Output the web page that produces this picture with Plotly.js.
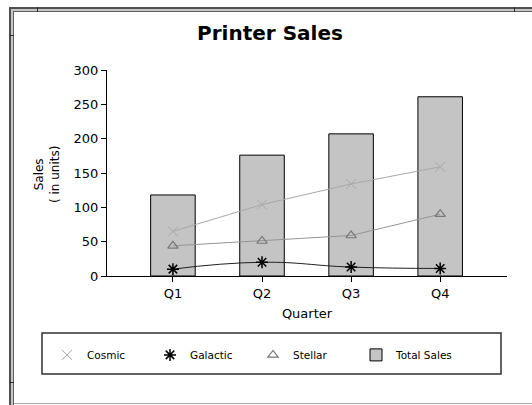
<!DOCTYPE html>
<html>
<head>
<meta charset="utf-8">
<script src="https://cdn.plot.ly/plotly-3.0.1.min.js"></script>
<style>
  html, body { margin:0; padding:0; background:#fff; overflow:hidden; }
  #wrap { position:relative; width:532px; height:405px; overflow:hidden; }
  .f { position:absolute; }
  #chart { position:absolute; left:0; top:0; width:532px; height:405px; z-index:2; }
</style>
</head>
<body>
<div id="wrap">
  <div class="f" style="left:9px;top:7px;width:600px;height:500px;background:#c4c4c4;border-left:2px solid #505050;border-top:2px solid #505050;box-sizing:border-box;"></div>
  <div class="f" style="left:13px;top:11px;width:600px;height:500px;background:#ffffff;border-left:1px solid #606060;border-top:1px solid #606060;box-sizing:border-box;"></div>
  <div class="f" style="left:14px;top:403px;width:520px;height:1px;background:#a8a8a8;"></div>
  <div class="f" style="left:37px;top:7px;width:1px;height:5px;background:#303030;"></div>
  <div class="f" style="left:514px;top:7px;width:1px;height:5px;background:#303030;"></div>
  <div class="f" style="left:9px;top:35px;width:5px;height:1px;background:#303030;"></div>
  <div class="f" style="left:9px;top:382px;width:5px;height:1px;background:#303030;"></div>
  <div id="chart"></div>
</div>
<script>
const quarters = ['Q1', 'Q2', 'Q3', 'Q4'];
const cosmic = [65, 104, 134, 159];
const galactic = [10, 20, 13, 11];
const stellar = [44, 51, 59, 90];
const totalSales = [118, 176, 207, 261];

const FONT = 'DejaVu Sans, Arial, sans-serif';

const cosmicMarker = {symbol:'x-thin-open', size:10, color:'#a8a8a8', line:{color:'#a8a8a8', width:1}};
const galacticMarker = {symbol:'asterisk-open', size:10, color:'#000', line:{color:'#000', width:1.5}};
const stellarMarker = {symbol:'triangle-up-open', size:9, color:'#777', line:{color:'#777', width:1.2}};

const data = [
  // connecting lines (not in legend)
  { type:'scatter', mode:'lines', x:quarters, y:cosmic, showlegend:false, hoverinfo:'skip',
    line:{color:'#a8a8a8', width:1} },
  { type:'scatter', mode:'lines', x:quarters, y:galactic, showlegend:false, hoverinfo:'skip',
    line:{color:'#202020', width:1, shape:'spline', smoothing:1.3} },
  { type:'scatter', mode:'lines', x:quarters, y:stellar, showlegend:false, hoverinfo:'skip',
    line:{color:'#959595', width:1} },
  // markers (legend entries)
  { type:'scatter', mode:'markers', name:'Cosmic', x:quarters, y:cosmic, marker:cosmicMarker },
  { type:'scatter', mode:'markers', name:'Galactic', x:quarters, y:galactic, marker:galacticMarker },
  { type:'scatter', mode:'markers', name:'Stellar', x:quarters, y:stellar, marker:stellarMarker },
  { type:'bar', name:'Total Sales', x:quarters, y:totalSales, width:0.5,
    marker:{color:'#c4c4c4', line:{color:'#000', width:1}} }
];

const layout = {
  width:532, height:405,
  paper_bgcolor:'rgba(0,0,0,0)', plot_bgcolor:'rgba(0,0,0,0)',
  margin:{l:107, r:25, t:70, b:129},
  font:{family:FONT, color:'#000', size:13},
  title:{text:'<b>Printer Sales</b>', font:{family:FONT, size:20, color:'#000'},
    x:0.5075, xref:'container', xanchor:'center', y:1-33/405, yref:'container', yanchor:'middle'},
  showlegend:true,
  legend:{orientation:'h', x:-0.15, xanchor:'left', y:-0.383, yanchor:'middle',
    bgcolor:'rgba(0,0,0,0)', borderwidth:0, font:{family:FONT, size:10.5, color:'#000'},
    entrywidth:58, itemwidth:30, traceorder:'normal'},
  xaxis:{type:'category', range:[-0.74, 3.75], showline:true, linecolor:'#000', linewidth:1,
    ticks:'outside', ticklen:5, tickcolor:'#000', showgrid:false, zeroline:false,
    tickfont:{family:FONT, size:13, color:'#000'},
    title:{text:'Quarter', font:{family:FONT, size:13, color:'#000'}, standoff:9}},
  yaxis:{range:[0,300], dtick:50, showline:true, linecolor:'#000', linewidth:1,
    ticks:'outside', ticklen:5, tickcolor:'#000', showgrid:false, zeroline:false,
    tickfont:{family:FONT, size:13, color:'#000'}},
  annotations:[{text:'Sales<br>( in units)', xref:'paper', yref:'paper', x:-0.15, y:0.49,
    xanchor:'center', yanchor:'middle', textangle:-90, showarrow:false,
    font:{family:FONT, size:12, color:'#000'}}],
  shapes:[{type:'rect', xref:'paper', yref:'paper', x0:-0.1625, x1:0.985, y0:-0.2767, y1:-0.4757,
    line:{color:'#303030', width:1.5}, fillcolor:'rgba(0,0,0,0)'}]
};

Plotly.newPlot('chart', data, layout, {displayModeBar:false, staticPlot:true});
</script>
</body>
</html>
